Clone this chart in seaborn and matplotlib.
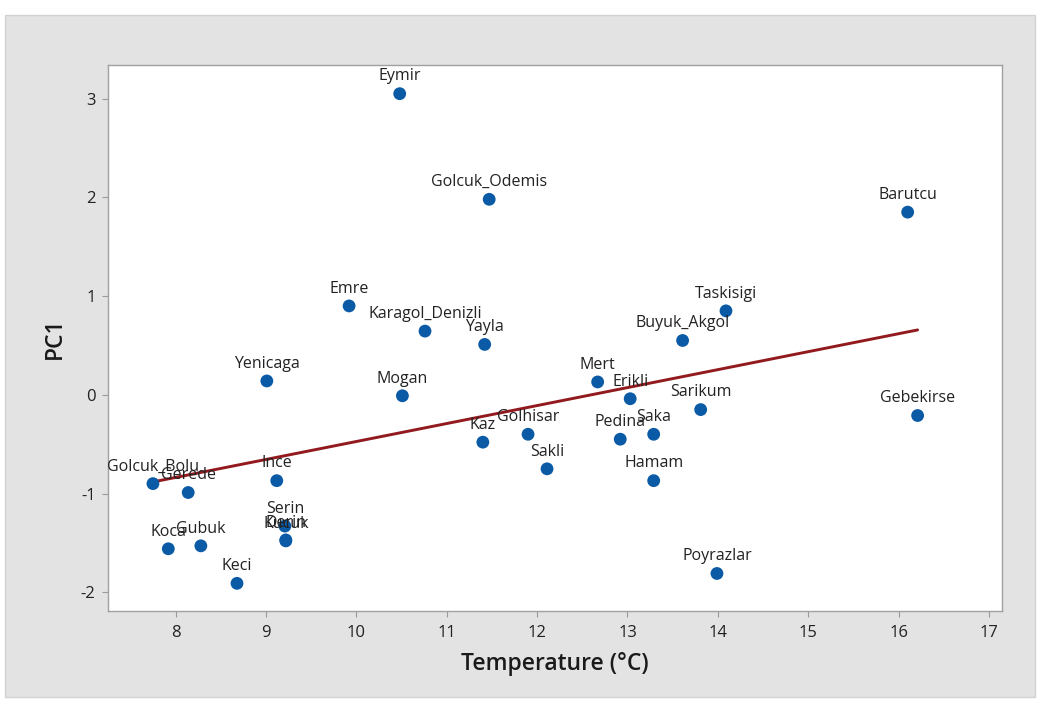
import matplotlib
matplotlib.use("Agg")
import matplotlib.pyplot as plt
import seaborn as sns
import pandas as pd
from matplotlib.patches import Rectangle

# ---- data ----
lakes = ["Eymir", "Golcuk_Odemis", "Barutcu", "Emre", "Karagol_Denizli", "Yayla",
         "Taskisigi", "Buyuk_Akgol", "Yenicaga", "Mogan", "Mert", "Erikli",
         "Sarikum", "Gebekirse", "Kaz", "Golhisar", "Pedina", "Saka", "Sakli",
         "Hamam", "Golcuk_Bolu", "Gerede", "Ince", "Serin", "Derin", "Kucuk",
         "Koca", "Gubuk", "Keci", "Poyrazlar"]
temperature = [10.48, 11.47, 16.10, 9.92, 10.76, 11.42,
               14.09, 13.61, 9.01, 10.51, 12.67, 13.03,
               13.81, 16.21, 11.40, 11.90, 12.92, 13.29, 12.11,
               13.29, 7.75, 8.14, 9.12, 9.21, 9.22, 9.22,
               7.92, 8.28, 8.68, 13.99]
pc1 = [3.05, 1.98, 1.85, 0.90, 0.645, 0.51,
       0.85, 0.55, 0.14, -0.01, 0.13, -0.04,
       -0.15, -0.21, -0.48, -0.40, -0.45, -0.40, -0.75,
       -0.87, -0.90, -0.99, -0.87, -1.33, -1.47, -1.48,
       -1.56, -1.53, -1.91, -1.81]
x_ticks = [8, 9, 10, 11, 12, 13, 14, 15, 16, 17]
y_ticks = [-2, -1, 0, 1, 2, 3]

df = pd.DataFrame({"Lake": lakes, "Temperature": temperature, "PC1": pc1})

sns.set_theme(style="white")
plt.rcParams["font.family"] = ["Open Sans", "DejaVu Sans"]
plt.rcParams["axes.unicode_minus"] = False

fig = plt.figure(figsize=(10.57, 7.07), dpi=100)
fig.patch.set_facecolor("white")
bg = Rectangle((0.0047, 0.0141), 0.9745, 0.9647, transform=fig.transFigure,
               facecolor="#e3e3e3", edgecolor="#d2d2d2", linewidth=1.0, zorder=-10)
fig.patches.append(bg)
ax = fig.add_axes([0.1022, 0.1358, 0.8458, 0.7722])
ax.set_zorder(5)
ax.set_facecolor("white")

sns.regplot(data=df, x="Temperature", y="PC1", ax=ax, ci=None, scatter=False,
            line_kws=dict(color="#921a1e", linewidth=2.1, zorder=2))
sns.scatterplot(data=df, x="Temperature", y="PC1", ax=ax, color="#0a5aa6",
                s=85, edgecolor="none", zorder=3)

for name, xv, yv in zip(df["Lake"], df["Temperature"], df["PC1"]):
    ax.annotate(name, (xv, yv), xytext=(0, 9.5), textcoords="offset points",
                ha="center", va="baseline", fontsize=11.5, color="#222222", zorder=4)

ax.set_xlim(7.253, 17.144)
ax.set_ylim(-2.19, 3.34)
ax.set_xticks(x_ticks)
ax.set_yticks(y_ticks)
ax.tick_params(axis="both", which="major", direction="out", length=4, width=0.8,
               color="#9a9a9a", labelsize=12, labelcolor="#222222",
               bottom=True, left=True)
ax.tick_params(axis="x", pad=6)
ax.tick_params(axis="y", pad=5)
for s in ax.spines.values():
    s.set_color("#a0a0a0")
    s.set_linewidth(1.0)

ax.set_xlabel("Temperature (°C)", fontsize=16.5, fontweight="semibold", color="#1a1a1a",
              labelpad=8)
ax.set_ylabel("PC1", fontsize=16.5, fontweight="semibold", color="#1a1a1a", labelpad=10)

fig.savefig("out.png", dpi=100, facecolor="white")
